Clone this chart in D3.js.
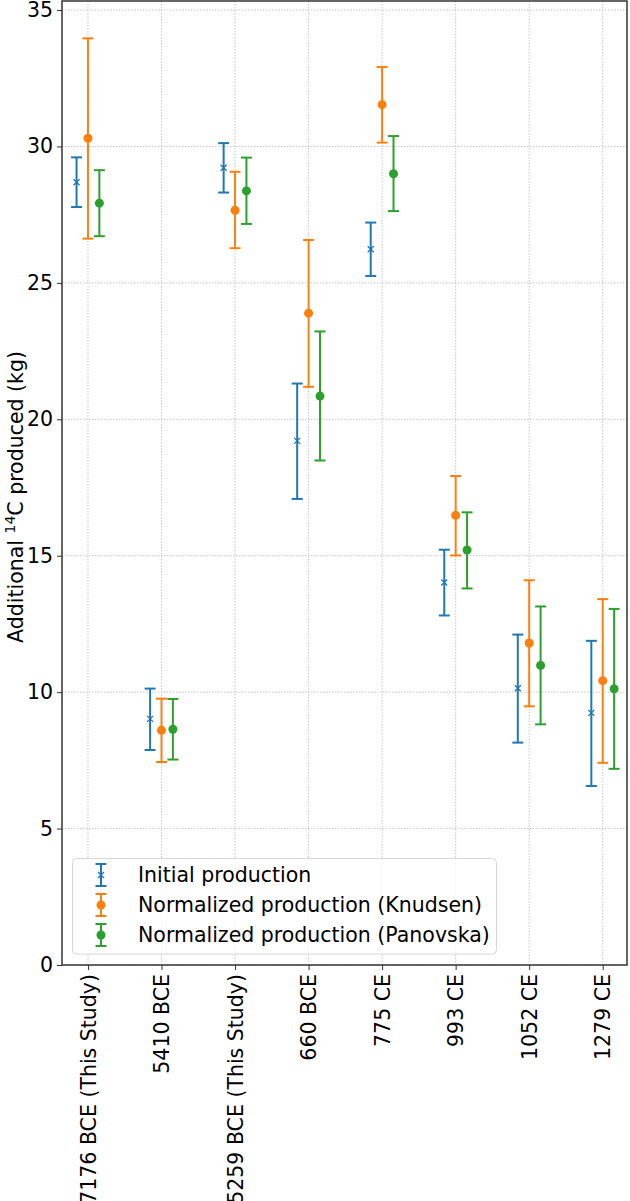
<!DOCTYPE html>
<html><head><meta charset="utf-8">
<script src="https://cdn.jsdelivr.net/npm/d3@7"></script>
<style>body{margin:0;background:#fff}svg{display:block;font-family:"DejaVu Sans",sans-serif}</style>
</head><body><svg id="c" width="630" height="1201"></svg>
<script>
const categories = ["7176 BCE (This Study)","5410 BCE","5259 BCE (This Study)","660 BCE","775 CE","993 CE","1052 CE","1279 CE"];
const seriesNames = ["Initial production","Normalized production (Knudsen)","Normalized production (Panovska)"];
const initialVal = [28.69, 9.02, 29.22, 19.21, 26.23, 14.02, 10.14, 9.24];
const initialLow = [27.78, 7.88, 28.31, 17.08, 25.25, 12.81, 8.15, 6.56];
const initialHigh = [29.60, 10.13, 30.12, 21.31, 27.21, 15.22, 12.11, 11.88];
const knudsenVal = [30.30, 8.60, 27.66, 23.89, 31.53, 16.48, 11.80, 10.42];
const knudsenLow = [26.62, 7.44, 26.27, 21.19, 30.14, 15.01, 9.48, 7.41];
const knudsenHigh = [33.96, 9.76, 29.07, 26.57, 32.91, 17.92, 14.10, 13.41];
const panovskaVal = [27.92, 8.64, 28.37, 20.85, 29.00, 15.21, 10.98, 10.12];
const panovskaLow = [26.71, 7.53, 27.16, 18.49, 27.63, 13.80, 8.82, 7.19];
const panovskaHigh = [29.13, 9.75, 29.59, 23.22, 30.38, 16.59, 13.14, 13.05];
const yTicks = [0,5,10,15,20,25,30,35];

const colors = ["#1f77b4","#ff7f0e","#2ca02c"];
const markers = ["x","o","o"];
const offsets = [-0.155, 0, 0.155];
const series = [
  {vals:initialVal, low:initialLow, high:initialHigh},
  {vals:knudsenVal, low:knudsenLow, high:knudsenHigh},
  {vals:panovskaVal, low:panovskaLow, high:panovskaHigh}
];

const FS = 20.5;
const svg = d3.select("#c");
const L = 62, R = 627, T = 1, B = 965;
const x = d3.scaleLinear().domain([-0.353, 7.33]).range([L, R]);
const y = d3.scaleLinear().domain([0, 35.33]).range([B, T]);

// grid
const g = svg.append("g");
g.selectAll("line.gy").data(yTicks).join("line")
  .attr("x1", L).attr("x2", R).attr("y1", d=>y(d)).attr("y2", d=>y(d))
  .attr("stroke", "#c8c8c8").attr("stroke-width", 1).attr("stroke-dasharray", "1.5,1.5");
g.selectAll("line.gx").data(categories).join("line")
  .attr("x1", (d,i)=>x(i)).attr("x2", (d,i)=>x(i)).attr("y1", T).attr("y2", B)
  .attr("stroke", "#c8c8c8").attr("stroke-width", 1).attr("stroke-dasharray", "1.5,1.5");

// y axis
const yAxis = d3.axisLeft(y).tickValues(yTicks).tickSize(5).tickPadding(4);
const ya = svg.append("g").attr("transform", `translate(${L},0)`).call(yAxis);
ya.select(".domain").remove();
ya.selectAll("text").attr("font-size", FS).attr("fill", "#000").attr("font-family", "DejaVu Sans");
ya.selectAll("line").attr("stroke", "#333");

// x axis
const xAxis = d3.axisBottom(x).tickValues(d3.range(categories.length)).tickFormat(i=>categories[i]).tickSize(5);
const xa = svg.append("g").attr("transform", `translate(0,${B})`).call(xAxis);
xa.select(".domain").remove();
xa.selectAll("line").attr("stroke", "#333");
xa.selectAll("text").attr("font-size", FS).attr("fill", "#000").attr("font-family", "DejaVu Sans")
  .attr("text-anchor", "end").attr("dy", "0.35em").attr("x", 0).attr("y", 0)
  .attr("transform", "translate(0,9) rotate(-90)");

// frame
svg.append("rect").attr("x", L).attr("y", T).attr("width", R-L).attr("height", B-T)
  .attr("fill", "none").attr("stroke", "#333").attr("stroke-width", 1.5);

// y label
svg.append("text").attr("transform", `translate(23,497) rotate(-90)`)
  .attr("text-anchor", "middle").attr("font-size", FS).attr("fill", "#000")
  .html('Additional <tspan baseline-shift="super" font-size="14">14</tspan>C produced (kg)');

function drawErr(sel, cx, cyTop, cyBot, cy, color, marker) {
  sel.append("line").attr("x1", cx).attr("x2", cx).attr("y1", cyTop).attr("y2", cyBot)
    .attr("stroke", color).attr("stroke-width", 2);
  [cyTop, cyBot].forEach(v => sel.append("line").attr("x1", cx-5.5).attr("x2", cx+5.5).attr("y1", v).attr("y2", v)
    .attr("stroke", color).attr("stroke-width", 2));
  if (marker === "o") {
    sel.append("circle").attr("cx", cx).attr("cy", cy).attr("r", 4.5).attr("fill", color);
  } else {
    const s = 3;
    sel.append("path").attr("d", `M${cx-s},${cy-s}L${cx+s},${cy+s}M${cx-s},${cy+s}L${cx+s},${cy-s}`)
      .attr("stroke", color).attr("stroke-width", 1.3).attr("fill", "none");
  }
}

series.forEach((s, k) => {
  const gs = svg.append("g");
  s.vals.forEach((v, i) => {
    drawErr(gs, x(i + offsets[k]), y(s.high[i]), y(s.low[i]), y(v), colors[k], markers[k]);
  });
});

// legend
const lg = svg.append("g");
lg.append("rect").attr("x", 72.5).attr("y", 858.5).attr("width", 424).attr("height", 95.5)
  .attr("rx", 4).attr("fill", "#fff").attr("fill-opacity", 0.8).attr("stroke", "#d6d6d6").attr("stroke-width", 1);
seriesNames.forEach((n, k) => {
  const cy = 875 + k*30;
  drawErr(lg, 101, cy-11, cy+11, cy, colors[k], markers[k]);
  lg.append("text").attr("x", 138).attr("y", cy).attr("dy", "0.35em").attr("font-size", FS).attr("fill", "#000").text(n);
});
</script></body></html>
